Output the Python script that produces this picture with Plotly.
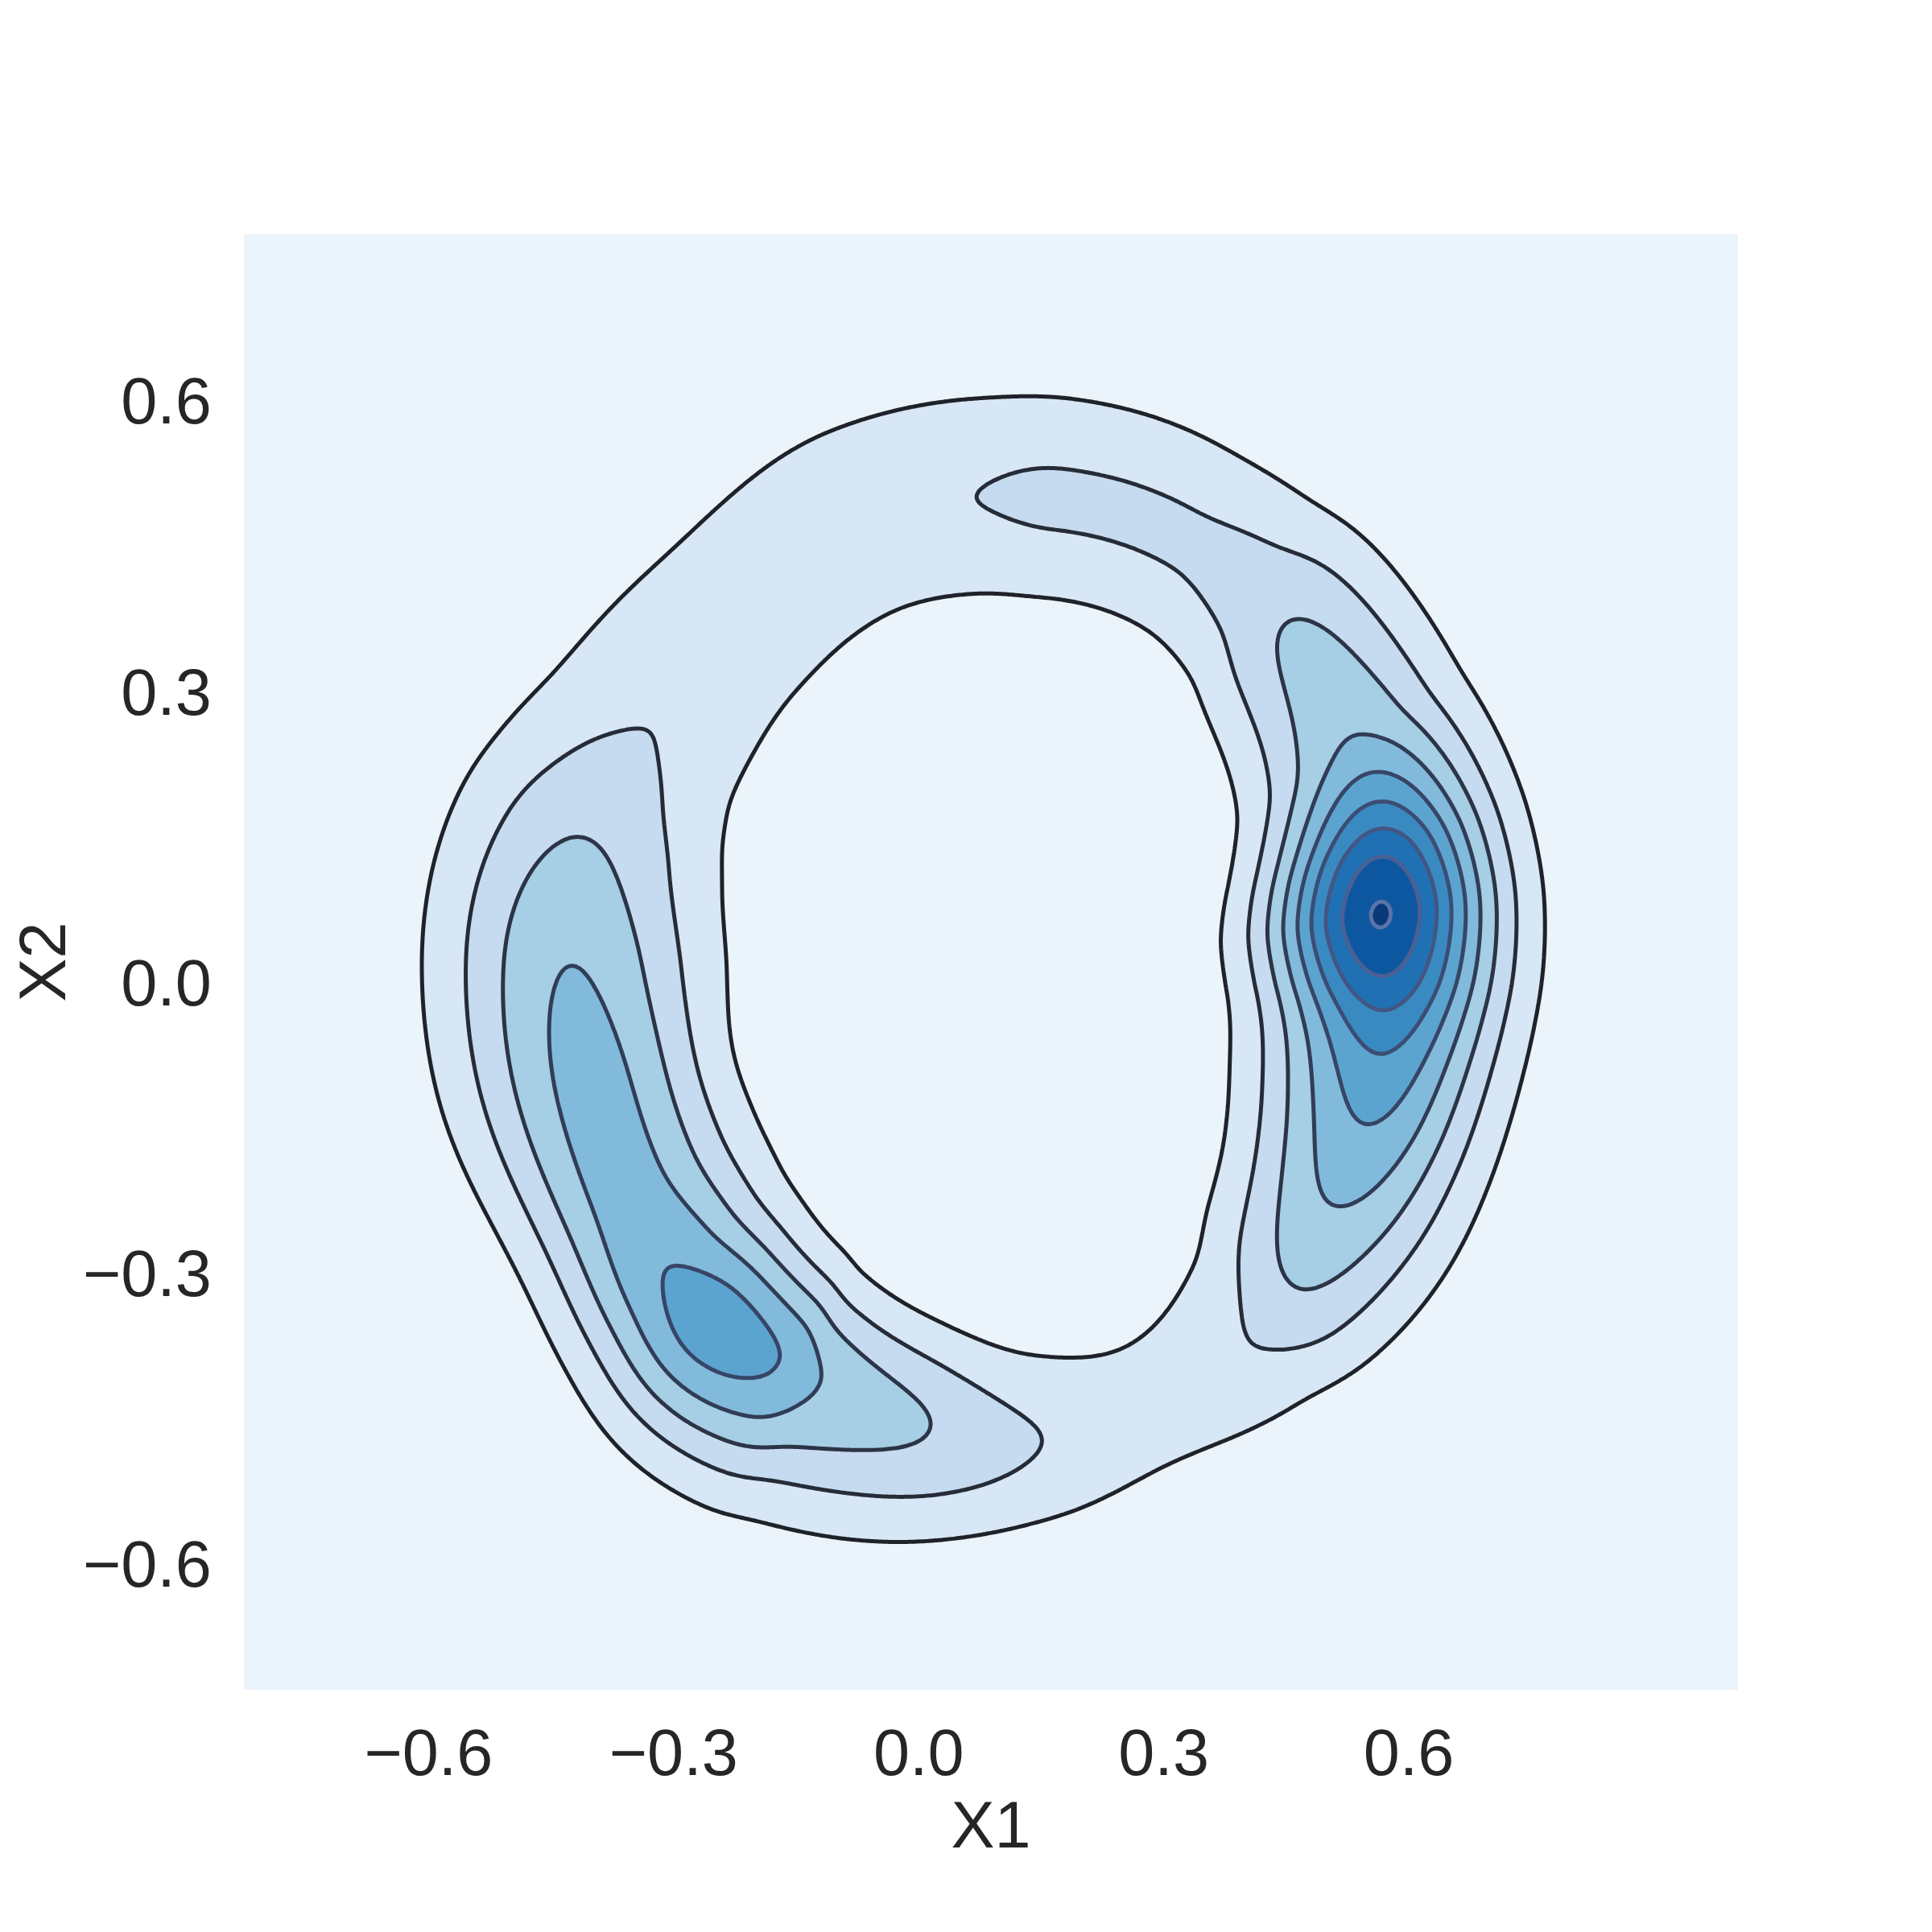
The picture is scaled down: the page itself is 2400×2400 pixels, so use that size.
import numpy as np
import plotly.graph_objects as go

# Ring-shaped density, described around the ring centre.
ring_center = (0.08, 0.0)

# ridge height along the ring (angle in degrees, height in contour-level units)
height_angle = [6.4, 8.2, 10.0, 15.1, 18.2, 21.3, 24.7, 29.2, 45.2, 52, 62, 80, 91, 108, 128, 140,
                148, 155, 163, 178, 192, 206, 217.4, 227, 237.5, 243.9, 261.9, 278.5, 295, 311.5,
                320.3, 331.7, 342.6, 351.4, 356.7, 0.7]
height_value = [9.0, 9.14, 9.0, 8.0, 7.0, 6.0, 5.0, 4.0, 3.0, 2.4, 2.15, 2.15, 2.0, 1.8, 1.8, 1.9,
                2.0, 2.35, 3.0, 4.0, 4.4, 4.5, 5.0, 5.6, 5.0, 4.0, 3.0, 2.0, 1.5, 2.0,
                3.0, 4.0, 5.0, 6.0, 7.0, 8.0]

# ridge radius and inner / outer spread along the ring
shape_angle = [0, 10, 30, 45, 60, 90, 110, 128, 146, 163, 178, 192, 206, 227, 244, 262, 278, 296,
               312, 320, 332, 343]
ridge_radius = [0.486, 0.49, 0.515, 0.52, 0.52, 0.50, 0.50, 0.476, 0.478, 0.515, 0.507, 0.485,
                0.49, 0.485, 0.456, 0.46, 0.479, 0.48, 0.50, 0.484, 0.477, 0.49]
spread_in = [0.094, 0.094, 0.095, 0.09, 0.083, 0.083, 0.095, 0.092, 0.10, 0.12, 0.117, 0.096,
             0.105, 0.088, 0.074, 0.071, 0.076, 0.072, 0.095, 0.084, 0.085, 0.10]
spread_out = [0.098, 0.095, 0.092, 0.09, 0.086, 0.085, 0.095, 0.098, 0.11, 0.11, 0.11, 0.114,
              0.085, 0.095, 0.098, 0.081, 0.068, 0.072, 0.07, 0.085, 0.10, 0.09]

tick_vals = [-0.6, -0.3, 0.0, 0.3, 0.6]
tick_text = ["\u22120.6", "\u22120.3", "0.0", "0.3", "0.6"]

fill_colors = ["#ebf3fb", "#d8e7f5", "#c6dbef", "#a6cee4", "#82badb",
               "#5ca4d0", "#3a8ac2", "#2070b4", "#0d57a1", "#083a7a"]
line_colors = ["#1f2329", "#262c37", "#2c3446", "#313d57", "#374566",
               "#3c4d75", "#435684", "#4a6093", "#5a73a8"]

x_range = [-0.826, 1.003]
y_range = [-0.730, 0.772]

TH = np.arange(0, 360, 0.25)


def pchip_ring(angles, values):
    a = np.asarray(angles, float) % 360
    v = np.asarray(values, float)
    o = np.argsort(a)
    a, v = a[o], v[o]
    ae = np.r_[a[-3:] - 360, a, a[:3] + 360]
    ve = np.r_[v[-3:], v, v[:3]]
    h = np.diff(ae)
    d = np.diff(ve) / h
    m = np.zeros_like(ve)
    for i in range(1, len(ve) - 1):
        if d[i - 1] * d[i] > 0:
            w1 = 2 * h[i] + h[i - 1]
            w2 = h[i] + 2 * h[i - 1]
            m[i] = (w1 + w2) / (w1 / d[i - 1] + w2 / d[i])
    i = np.clip(np.searchsorted(ae, TH, side="right") - 1, 0, len(h) - 1)
    t = (TH - ae[i]) / h[i]
    h00 = 2 * t**3 - 3 * t**2 + 1
    h10 = t**3 - 2 * t**2 + t
    h01 = -2 * t**3 + 3 * t**2
    h11 = t**3 - t**2
    return h00 * ve[i] + h10 * h[i] * m[i] + h01 * ve[i + 1] + h11 * h[i] * m[i + 1]


def smooth_ring(v, sigma_deg):
    k = np.arange(-int(4 * sigma_deg / 0.25), int(4 * sigma_deg / 0.25) + 1) * 0.25
    ker = np.exp(-0.5 * (k / sigma_deg) ** 2)
    ker /= ker.sum()
    n = len(k) // 2
    return np.convolve(np.r_[v[-n:], v, v[:n]], ker, mode="valid")


A = smooth_ring(pchip_ring(height_angle, height_value), 1.2)
R = smooth_ring(pchip_ring(shape_angle, ridge_radius), 7.0)
Sin = smooth_ring(pchip_ring(shape_angle, spread_in), 7.0)
Sout = smooth_ring(pchip_ring(shape_angle, spread_out), 7.0)

xs = np.linspace(x_range[0], x_range[1], 420)
ys = np.linspace(y_range[0], y_range[1], 420)
X, Y = np.meshgrid(xs, ys)
dx, dy = X - ring_center[0], Y - ring_center[1]
r = np.hypot(dx, dy)
ang = np.degrees(np.arctan2(dy, dx)) % 360
a_g = np.interp(ang, TH, A, period=360)
r_g = np.interp(ang, TH, R, period=360)
s_g = np.where(r < r_g, np.interp(ang, TH, Sin, period=360), np.interp(ang, TH, Sout, period=360))
Z = a_g * np.exp(-0.5 * ((r - r_g) / s_g) ** 2)

n_lines = 9
fill_scale = [[k / (len(fill_colors) - 1), c] for k, c in enumerate(fill_colors)]
line_scale = [[k / (len(line_colors) - 1), c] for k, c in enumerate(line_colors)]

fig = go.Figure()
fig.add_trace(go.Contour(
    x=xs, y=ys, z=Z,
    contours=dict(start=1, end=n_lines, size=1, coloring="fill", showlines=False),
    colorscale=fill_scale, showscale=False, line=dict(width=0), hoverinfo="skip"))
fig.add_trace(go.Contour(
    x=xs, y=ys, z=Z,
    contours=dict(start=1, end=n_lines, size=1, coloring="lines"),
    colorscale=line_scale, showscale=False, line=dict(width=5), hoverinfo="skip"))

font = dict(family="Liberation Sans, Arial, sans-serif", size=81, color="#262626")
fig.update_layout(
    width=2400, height=2400,
    margin=dict(l=295, r=249, t=283, b=309),
    paper_bgcolor="white", plot_bgcolor="#ebf3fb",
    font=font, showlegend=False,
)
fig.update_xaxes(range=x_range, tickvals=tick_vals, ticktext=tick_text, showgrid=False,
                 zeroline=False, showline=False, ticks="outside", ticklen=8,
                 tickcolor="rgba(0,0,0,0)", automargin=False,
                 title=dict(text="X1", font=font, standoff=7), tickfont=font)
fig.update_yaxes(range=y_range, tickvals=tick_vals, ticktext=tick_text, showgrid=False,
                 zeroline=False, showline=False, ticks="outside", ticklen=23,
                 tickcolor="rgba(0,0,0,0)", automargin=False,
                 title=dict(text="X2", font=font, standoff=48), tickfont=font)
fig.write_html("out.html")
